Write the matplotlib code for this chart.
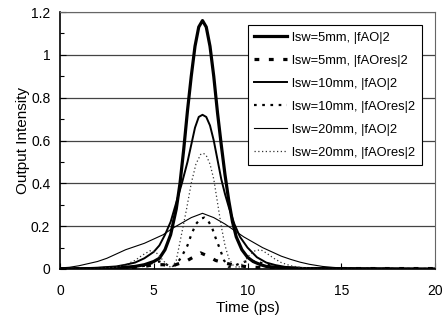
import matplotlib
matplotlib.use("Agg")
import matplotlib.pyplot as plt
from matplotlib.ticker import MultipleLocator

plt.rcParams['font.family'] = ['Liberation Sans', 'DejaVu Sans']

# lsw=5mm, |fAO|2  (thick solid)
t_5 = [0, 2, 3, 3.5, 4, 4.5, 5, 5.3, 5.6, 5.9, 6.2, 6.4, 6.6, 6.8, 7.0, 7.2, 7.4, 7.6,
       7.8, 8.0, 8.2, 8.4, 8.6, 8.8, 9.0, 9.2, 9.4, 9.7, 10.0, 10.3, 10.7, 11, 12, 13, 20]
i_5 = [0.0, 0.002, 0.005, 0.008, 0.012, 0.02, 0.035, 0.05, 0.09, 0.16, 0.28, 0.40, 0.56,
       0.74, 0.90, 1.04, 1.13, 1.16, 1.13, 1.04, 0.90, 0.73, 0.58, 0.44, 0.32, 0.22, 0.15,
       0.09, 0.055, 0.035, 0.02, 0.012, 0.005, 0.002, 0.0]

# lsw=5mm, |fAOres|2  (thick dashes)
t_5r = [0, 3, 4, 4.5, 5, 5.5, 6, 6.5, 6.8, 7.1, 7.5, 7.9, 8.3, 8.7, 9.2, 10, 11, 12, 20]
i_5r = [0.0, 0.003, 0.008, 0.012, 0.02, 0.02, 0.015, 0.03, 0.04, 0.055, 0.075, 0.06,
        0.04, 0.03, 0.02, 0.01, 0.005, 0.002, 0.002]

# lsw=10mm, |fAO|2  (medium solid)
t_10 = [0, 1, 2, 3, 3.5, 4, 4.5, 5, 5.3, 5.6, 5.9, 6.2, 6.5, 6.8, 7.0, 7.2, 7.4, 7.6, 7.8,
        8.0, 8.2, 8.4, 8.6, 8.8, 9.0, 9.3, 9.6, 10.0, 10.5, 11, 11.5, 12, 13, 14, 20]
i_10 = [0.002, 0.003, 0.006, 0.012, 0.02, 0.03, 0.05, 0.08, 0.11, 0.16, 0.22, 0.31, 0.40,
        0.50, 0.58, 0.66, 0.71, 0.72, 0.71, 0.67, 0.60, 0.51, 0.42, 0.35, 0.29, 0.21, 0.15,
        0.10, 0.055, 0.03, 0.018, 0.01, 0.004, 0.002, 0.0]

# lsw=10mm, |fAOres|2  (short dashes)
t_10r = [0, 3, 4, 4.5, 5, 5.3, 5.6, 5.9, 6.2, 6.5, 6.8, 7.0, 7.25, 7.5, 7.7, 7.9, 8.1, 8.3,
         8.5, 8.75, 9.0, 9.3, 9.7, 10.1, 10.5, 11, 12, 13, 20]
i_10r = [0.0, 0.003, 0.008, 0.015, 0.03, 0.035, 0.025, 0.01, 0.02, 0.06, 0.11, 0.16, 0.21,
         0.235, 0.24, 0.225, 0.195, 0.145, 0.10, 0.04, 0.01, 0.015, 0.03, 0.04, 0.035, 0.02,
         0.006, 0.002, 0.0]

# lsw=20mm, |fAO|2  (thin solid)
t_20 = [0, 0.5, 1, 1.5, 2, 2.5, 3, 3.5, 4, 4.5, 5, 5.5, 6, 6.5, 7, 7.6, 8.2, 8.8, 9.3, 9.8,
        10.3, 10.8, 11.3, 11.8, 12.3, 12.8, 13.3, 14, 14.5, 15, 16, 17, 20]
i_20 = [0.005, 0.008, 0.015, 0.025, 0.035, 0.05, 0.07, 0.09, 0.105, 0.12, 0.14, 0.16, 0.19,
        0.215, 0.24, 0.26, 0.24, 0.21, 0.18, 0.15, 0.125, 0.10, 0.08, 0.06, 0.045, 0.032,
        0.022, 0.012, 0.008, 0.005, 0.003, 0.002, 0.001]

# lsw=20mm, |fAOres|2  (fine dots)
t_20r = [0, 2, 3, 3.5, 4, 4.4, 4.8, 5.1, 5.4, 5.7, 5.95, 6.2, 6.5, 6.75, 7.0, 7.25, 7.5,
         7.65, 7.8, 8.0, 8.2, 8.4, 8.6, 8.8, 9.0, 9.25, 9.5, 9.8, 10.1, 10.4, 10.7, 11.0,
         11.4, 11.8, 12.3, 13, 14, 20]
i_20r = [0.0, 0.002, 0.008, 0.02, 0.04, 0.065, 0.085, 0.08, 0.05, 0.02, 0.005, 0.04, 0.17,
         0.28, 0.40, 0.49, 0.535, 0.54, 0.53, 0.49, 0.42, 0.31, 0.20, 0.11, 0.05, 0.015,
         0.005, 0.03, 0.065, 0.085, 0.09, 0.075, 0.05, 0.03, 0.015, 0.005, 0.001, 0.0]

fig = plt.figure(figsize=(4.44, 3.24), dpi=100)
ax = fig.add_axes([60 / 444, 55 / 324, 375 / 444, 257 / 324])

ax.plot(t_5, i_5, color='black', lw=2.3, label='lsw=5mm, |fAO|2')
ax.plot(t_5r, i_5r, color='black', lw=2.3, dashes=(1.5, 3), label='lsw=5mm, |fAOres|2')
ax.plot(t_10, i_10, color='black', lw=1.4, label='lsw=10mm, |fAO|2')
ax.plot(t_10r, i_10r, color='black', lw=1.6, dashes=(1.2, 2.5), label='lsw=10mm, |fAOres|2')
ax.plot(t_20, i_20, color='black', lw=0.8, label='lsw=20mm, |fAO|2')
ax.plot(t_20r, i_20r, color='#333333', lw=0.9, dashes=(1, 2), label='lsw=20mm, |fAOres|2')

ax.set_xlim(0, 20)
ax.set_ylim(0, 1.2)
ax.xaxis.set_major_locator(MultipleLocator(5))
ax.yaxis.set_minor_locator(MultipleLocator(0.1))
ax.set_yticks([0, 0.2, 0.4, 0.6, 0.8, 1.0, 1.2])
ax.set_yticklabels(['0', '0.2', '0.4', '0.6', '0.8', '1', '1.2'])
ax.tick_params(axis='both', direction='in', labelsize=10, length=4, width=0.8)
ax.tick_params(axis='y', which='minor', direction='in', length=3, width=0.8)
ax.tick_params(axis='x', pad=11)
ax.tick_params(axis='y', pad=7)
ax.grid(axis='y', color='#444444', lw=0.9)
ax.set_axisbelow(True)

for side in ['top', 'right']:
    ax.spines[side].set_color('#666666')
for side in ['left', 'bottom']:
    ax.spines[side].set_linewidth(1.2)

ax.set_xlabel('Time (ps)', fontsize=11, labelpad=2)
ax.set_ylabel('Output Intensity', fontsize=11, labelpad=1)

leg = ax.legend(loc='upper right', bbox_to_anchor=(0.965, 0.949), borderaxespad=0,
                fontsize=9.3, fancybox=False, framealpha=1, edgecolor='black',
                handlelength=2.55, handletextpad=0.4, labelspacing=0.85, borderpad=0.5)
leg.get_frame().set_linewidth(0.8)

fig.savefig('out.png', dpi=100)
